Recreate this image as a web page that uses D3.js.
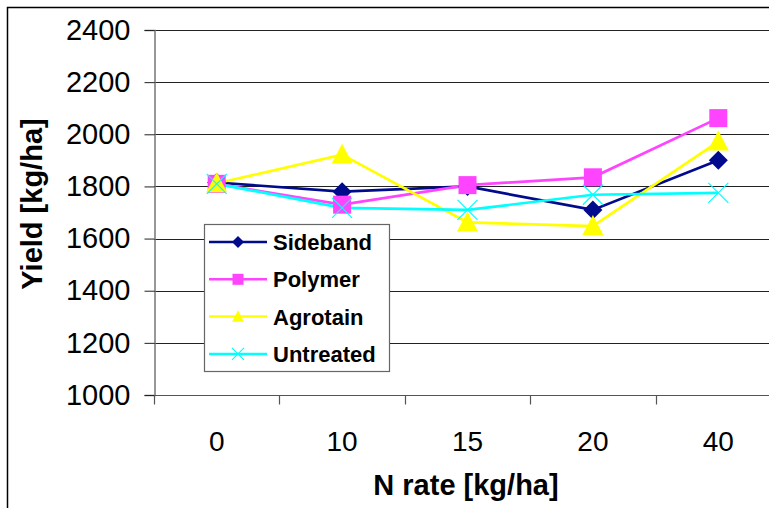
<!DOCTYPE html>
<html>
<head>
<meta charset="utf-8">
<script src="https://cdn.jsdelivr.net/npm/d3@7"></script>
<style>
body { margin: 0; background: #fff; }
text { font-family: "Liberation Sans", Arial, sans-serif; }
</style>
</head>
<body>
<script>
// chart data
var rates = ["0", "10", "15", "20", "40"];
var sideband = [1815, 1780, 1800, 1710, 1900];
var polymer = [1810, 1730, 1805, 1835, 2062];
var agrotain = [1812, 1922, 1662, 1648, 1972];
var untreated = [1810, 1718, 1710, 1768, 1775];
var yTicks = [1000, 1200, 1400, 1600, 1800, 2000, 2200, 2400];

var series = [
	{name: "Sideband", values: sideband, color: "#000a8c", symbol: "diamond"},
	{name: "Polymer", values: polymer, color: "#ff44ff", symbol: "square"},
	{name: "Agrotain", values: agrotain, color: "#ffff00", symbol: "triangle"},
	{name: "Untreated", values: untreated, color: "#00ffff", symbol: "cross"}
];

var W = 769, H = 508;
var plotLeft = 154, plotTop = 30, plotBottom = 395, plotRight = 781;

var svg = d3.select("body").append("svg")
	.attr("width", W)
	.attr("height", H);

// outer frame (cut by the picture edge on right and bottom)
svg.append("rect")
	.attr("x", 7.5).attr("y", 7.5)
	.attr("width", 900).attr("height", 900)
	.attr("fill", "none")
	.attr("stroke", "#000")
	.attr("stroke-width", 1.5);

var x = d3.scaleBand().domain(rates).range([plotLeft, plotRight]);
var y = d3.scaleLinear().domain([1000, 2400]).range([plotBottom, plotTop]);

// gridlines
svg.append("g")
	.selectAll("line")
	.data(yTicks)
	.enter()
	.append("line")
	.attr("x1", plotLeft).attr("x2", W)
	.attr("y1", function(d) { return Math.round(y(d)) + 0.5; })
	.attr("y2", function(d) { return Math.round(y(d)) + 0.5; })
	.attr("stroke", function(d) { return d == 1000 ? "#555" : "#222"; })
	.attr("stroke-width", 1.2);

// y axis
var yAxis = svg.append("g")
	.attr("transform", "translate(" + (plotLeft + 0.5) + ",0)")
	.call(d3.axisLeft(y).tickValues(yTicks).tickSize(10).tickPadding(14).tickFormat(d3.format("d")));
yAxis.select(".domain").attr("stroke", "#777").attr("stroke-width", 1.5);
yAxis.selectAll(".tick line").attr("stroke", "#222");
yAxis.selectAll(".tick text")
	.attr("font-size", "29px")
	.attr("font-family", "Liberation Sans, Arial, sans-serif")
	.attr("fill", "#000");

// x axis with ticks between the categories
var xAxisG = svg.append("g")
	.attr("transform", "translate(0," + (plotBottom + 0.5) + ")");
xAxisG.append("line")
	.attr("x1", plotLeft).attr("x2", W)
	.attr("stroke", "#555").attr("stroke-width", 1.2);
xAxisG.selectAll(".sep")
	.data(rates)
	.enter()
	.append("line")
	.attr("x1", function(d) { return Math.round(x(d)) + 0.5; })
	.attr("x2", function(d) { return Math.round(x(d)) + 0.5; })
	.attr("y1", 0).attr("y2", 9)
	.attr("stroke", "#555").attr("stroke-width", 1.2);
xAxisG.selectAll(".lab")
	.data(rates)
	.enter()
	.append("text")
	.attr("x", function(d) { return x(d) + x.bandwidth() / 2; })
	.attr("y", 55)
	.attr("text-anchor", "middle")
	.attr("font-size", "28px")
	.text(function(d) { return d; });

// axis titles
svg.append("text")
	.attr("x", 466).attr("y", 495)
	.attr("text-anchor", "middle")
	.attr("font-size", "29px")
	.attr("font-weight", "bold")
	.text("N rate [kg/ha]");
svg.append("text")
	.attr("transform", "translate(42,204) rotate(-90)")
	.attr("text-anchor", "middle")
	.attr("font-size", "29px")
	.attr("font-weight", "bold")
	.text("Yield [kg/ha]");

function cx(i) { return x(rates[i]) + x.bandwidth() / 2; }

function drawMarker(g, s, px, py, size) {
	if (s.symbol == "diamond") {
		g.append("path")
			.attr("d", "M" + px + "," + (py - size / 2) + "L" + (px + size / 2) + "," + py + "L" + px + "," + (py + size / 2) + "L" + (px - size / 2) + "," + py + "Z")
			.attr("fill", s.color);
	} else if (s.symbol == "square") {
		g.append("rect")
			.attr("x", px - size / 2).attr("y", py - size / 2)
			.attr("width", size).attr("height", size)
			.attr("fill", s.color);
	} else if (s.symbol == "triangle") {
		var h = size * 0.95;
		g.append("path")
			.attr("d", "M" + px + "," + (py - h * 0.55) + "L" + (px + size / 2) + "," + (py + h * 0.45) + "L" + (px - size / 2) + "," + (py + h * 0.45) + "Z")
			.attr("fill", s.color);
	} else {
		var r = size / 2;
		g.append("path")
			.attr("d", "M" + (px - r) + "," + (py - r) + "L" + (px + r) + "," + (py + r) + "M" + (px + r) + "," + (py - r) + "L" + (px - r) + "," + (py + r))
			.attr("stroke", s.color)
			.attr("stroke-width", 1.2)
			.attr("fill", "none");
	}
}

// series lines
var line = d3.line()
	.x(function(d, i) { return cx(i); })
	.y(function(d) { return y(d); });

series.forEach(function(s) {
	svg.append("path")
		.datum(s.values)
		.attr("d", line)
		.attr("fill", "none")
		.attr("stroke", s.color)
		.attr("stroke-width", 2.7);
});

var sizes = {diamond: 19, square: 18, triangle: 21, cross: 20};
series.forEach(function(s) {
	var g = svg.append("g");
	s.values.forEach(function(v, i) {
		drawMarker(g, s, cx(i), y(v), sizes[s.symbol]);
	});
});

// legend
var leg = svg.append("g");
leg.append("rect")
	.attr("x", 204.5).attr("y", 224.5)
	.attr("width", 185).attr("height", 147)
	.attr("fill", "#fff")
	.attr("stroke", "#666")
	.attr("stroke-width", 1.2);
var legSizes = {diamond: 12, square: 11, triangle: 12, cross: 12};
series.forEach(function(s, i) {
	var ly = 242 + i * 37.3;
	leg.append("line")
		.attr("x1", 209).attr("x2", 267)
		.attr("y1", ly).attr("y2", ly)
		.attr("stroke", s.color)
		.attr("stroke-width", 2.5);
	drawMarker(leg, s, 238, ly, legSizes[s.symbol]);
	leg.append("text")
		.attr("x", 273).attr("y", ly + 8)
		.attr("font-size", "22px")
		.attr("font-weight", "bold")
		.text(s.name);
});
</script>
</body>
</html>
